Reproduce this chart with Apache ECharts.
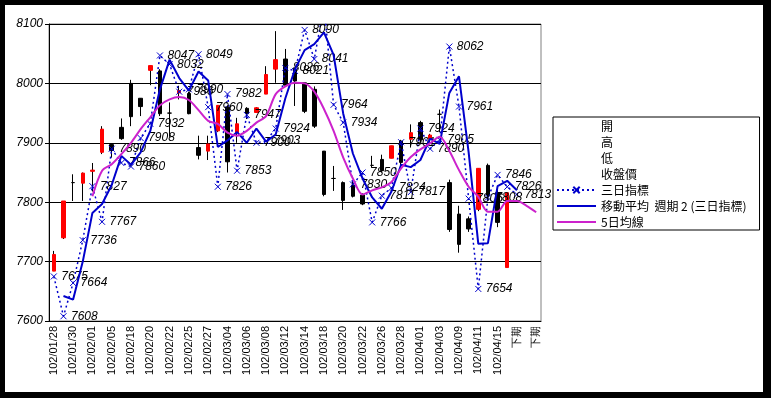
<!DOCTYPE html>
<html>
<head>
<meta charset="utf-8">
<script src="https://cdn.jsdelivr.net/npm/echarts@6/dist/echarts.min.js"></script>
<style>
html, body { margin: 0; padding: 0; background: #000; }
#frame { position: absolute; left: 5px; top: 5px; width: 758px; height: 387px; background: #fff; }
#main { position: absolute; left: 0; top: 0; width: 771px; height: 398px; }
</style>
</head>
<body>
<div id="frame"></div>
<div id="main"></div>
<script>
// trading days (labels shown every other category, like the sheet)
const days = [
    '102/01/28', '102/01/29', '102/01/30', '102/01/31', '102/02/01', '102/02/04', '102/02/05', '102/02/06',
    '102/02/18', '102/02/19', '102/02/20', '102/02/21', '102/02/22', '102/02/23', '102/02/25', '102/02/26',
    '102/02/27', '102/03/01', '102/03/04', '102/03/05', '102/03/06', '102/03/07', '102/03/08', '102/03/11',
    '102/03/12', '102/03/13', '102/03/14', '102/03/15', '102/03/18', '102/03/19', '102/03/20', '102/03/21',
    '102/03/22', '102/03/25', '102/03/26', '102/03/27', '102/03/28', '102/03/29', '102/04/01', '102/04/02',
    '102/04/03', '102/04/08', '102/04/09', '102/04/10', '102/04/11', '102/04/12', '102/04/15', '102/04/16',
    '下期', '下期', '下期'
];

const openPx  = [7684, 7740, 7833, 7832, 7852, 7884, 7897, 7926, 8000, 7975, 8022, 8021, 7950, 7984, 7983, 7892,
                 7886, 7920, 7960, 7917, 7958, 7951, 7982, 8024, 8041, 8024, 8001, 7990, 7886, 7840, 7833, 7829,
                 7812, 7862, 7872, 7874, 7903, 7906, 7934, 7907, 7948, 7833, 7780, 7772, 7788, 7862, 7816, 7690];
const closePx = [7712, 7802, 7833, 7849, 7854, 7923, 7887, 7907, 7944, 7961, 8030, 7949, 7950, 7988, 7949, 7879,
                 7898, 7963, 7868, 7932, 7949, 7959, 8015, 8040, 7997, 8004, 7953, 7928, 7813, 7840, 7803, 7810,
                 7797, 7862, 7853, 7895, 7867, 7917, 7905, 7913, 7948, 7754, 7729, 7755, 7857, 7812, 7766, 7816];
const lowPx   = [7684, 7738, 7802, 7802, 7818, 7881, 7875, 7905, 7928, 7945, 7997, 7945, 7910, 7973, 7948, 7872,
                 7871, 7918, 7850, 7900, 7940, 7951, 7982, 8001, 7996, 7962, 7950, 7925, 7810, 7819, 7787, 7808,
                 7795, 7858, 7850, 7874, 7860, 7892, 7900, 7900, 7918, 7750, 7715, 7750, 7785, 7805, 7758, 7690];
const highPx  = [7718, 7802, 7847, 7850, 7866, 7928, 7897, 7941, 8006, 7975, 8030, 8024, 7968, 7996, 7986, 7912,
                 7912, 7963, 7963, 7942, 7960, 7960, 8029, 8088, 8058, 8026, 8001, 7995, 7886, 7861, 7835, 7835,
                 7815, 7878, 7880, 7895, 7905, 7931, 7937, 7915, 7956, 7838, 7794, 7776, 7857, 7865, 7825, 7816];

// 三日指標 (idx 28 runs above the 8100 top of the axis)
const threeDay = [7675, 7608, 7664, 7736, 7827, 7767, 7890, 7866, 7860, 7908, 7932, 8047, 8032, 7986, 7990, 8049,
                  7960, 7826, 7982, 7853, 7947, 7900, 7903, 7924, 8026, 8021, 8090, 8041, 8131, 7964, 7934, 7830,
                  7850, 7766, 7811, 7824, 7901, 7817, 7924, 7890, 7905, 8062, 7961, 7806, 7654, 7808, 7846, 7826,
                  7813];
// 移動平均 週期 2 (三日指標)
const threeDayMA2 = [null, 7642, 7636, 7700, 7782, 7797, 7829, 7878, 7863, 7884, 7920, 7990, 8040, 8009, 7988, 8020,
                     8005, 7893, 7904, 7918, 7900, 7924, 7902, 7914, 7975, 8024, 8056, 8066, 8086, 8048, 7949, 7882,
                     7840, 7808, 7789, 7818, 7863, 7859, 7871, 7907, 7898, 7984, 8012, 7884, 7730, 7731, 7827, 7836,
                     7820];
// 5日均線
const ma5 = [null, null, null, null, 7810, 7853, 7864, 7881, 7900, 7923, 7943, 7963, 7973, 7977, 7972, 7955,
             7937, 7932, 7917, 7912, 7920, 7934, 7945, 7982, 7995, 8001, 8000, 7986, 7957, 7920, 7875, 7840,
             7813, 7820, 7825, 7834, 7857, 7876, 7889, 7899, 7910, 7886, 7854, 7826, 7809, 7784, 7784, 7802,
             7802, 7794, 7783];

const yMin = 7600, yMax = 8100, yStep = 100;

const font = 'Liberation Sans';
const lineIcon = 'path://M0,0H39V2H0Z';
const wickData = openPx.map((o, i) => [o, closePx[i], lowPx[i], highPx[i]]);
const bodyData = openPx.map((o, i) => [o, closePx[i], Math.min(o, closePx[i]), Math.max(o, closePx[i])]);

const chart = echarts.init(document.getElementById('main'));
chart.setOption({
    backgroundColor: 'transparent',
    animation: false,
    grid: {
        left: 49, top: 24, width: 492, height: 297,
        show: true, borderColor: '#808080', borderWidth: 1
    },
    legend: {
        orient: 'vertical',
        left: 553, top: 117,
        padding: [2, 13, 1, 3],
        itemWidth: 39, itemHeight: 8, itemGap: 2,
        backgroundColor: '#fff', borderColor: '#000', borderWidth: 1,
        textStyle: { fontSize: 12, lineHeight: 14, color: '#000', fontFamily: 'Noto Sans CJK TC' },
        data: [
            { name: '開', icon: 'none' },
            { name: '高', icon: 'none' },
            { name: '低', icon: 'none' },
            { name: '收盤價', icon: 'none' },
            '三日指標',
            { name: '移動平均  週期 2 (三日指標)', icon: lineIcon },
            { name: '5日均線', icon: lineIcon }
        ]
    },
    xAxis: {
        type: 'category',
        data: days,
        boundaryGap: true,
        axisLine: { lineStyle: { color: '#000', width: 1 } },
        axisTick: { interval: 0, length: 3, lineStyle: { color: '#000' } },
        axisLabel: { interval: 1, rotate: 90, fontSize: 11, color: '#000', margin: 5, fontFamily: font },
        splitLine: { show: false }
    },
    yAxis: {
        type: 'value',
        min: yMin, max: yMax, interval: yStep,
        axisLine: { show: true, lineStyle: { color: '#000' } },
        axisTick: { show: true, length: 4, lineStyle: { color: '#000' } },
        axisLabel: {
            fontSize: 12, color: '#000', margin: 6, fontFamily: font, fontStyle: 'italic',
            formatter: v => String(v)
        },
        splitLine: { lineStyle: { color: '#000', width: 1 } }
    },
    series: [
        { name: '開', type: 'line', data: [] },
        { name: '高', type: 'line', data: [] },
        { name: '低', type: 'line', data: [] },
        {
            name: '收盤價', type: 'candlestick', barWidth: 1, z: 2,
            itemStyle: { color: '#000', color0: '#000', borderColor: '#000', borderColor0: '#000', borderWidth: 1 },
            data: wickData
        },
        {
            name: '收盤價', type: 'candlestick', barWidth: 4, z: 3,
            itemStyle: {
                color: '#ff0000', color0: '#000', borderColor: '#ff0000', borderColor0: '#000',
                borderColorDoji: '#000', borderWidth: 1
            },
            data: bodyData
        },
        {
            name: '三日指標', type: 'line', z: 4,
            data: threeDay,
            symbol: 'path://M0,0L8,8M8,0L0,8', symbolSize: 6,
            itemStyle: { color: '#0000cc', borderColor: '#0000cc', borderWidth: 1 },
            lineStyle: { color: '#0000cc', width: 1.5, type: [2, 3] },
            label: {
                show: true, position: 'right', distance: 4,
                fontSize: 12, color: '#000', fontStyle: 'italic', fontFamily: font,
                formatter: p => (p.value > yMax ? '' : String(p.value))
            }
        },
        {
            name: '移動平均  週期 2 (三日指標)', type: 'line', z: 5,
            data: threeDayMA2, showSymbol: false, symbol: 'none',
            lineStyle: { color: '#0000cc', width: 2 },
            itemStyle: { color: '#0000cc' }
        },
        {
            name: '5日均線', type: 'line', z: 5,
            data: ma5, showSymbol: false, symbol: 'none', smooth: 0.3,
            lineStyle: { color: '#cc22cc', width: 2 },
            itemStyle: { color: '#cc22cc' }
        }
    ]
});
</script>
</body>
</html>
